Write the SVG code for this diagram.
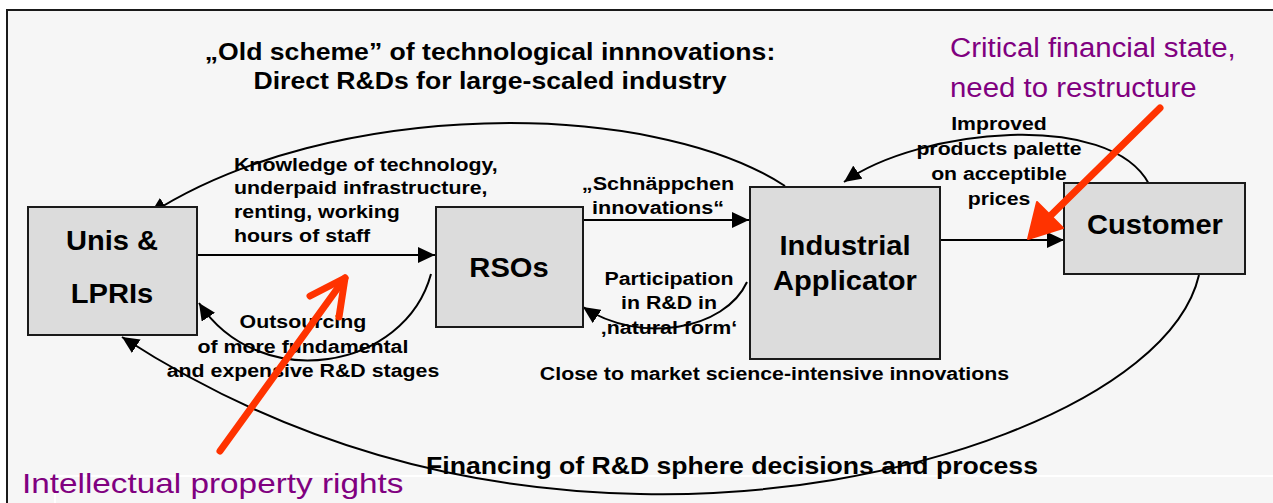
<svg xmlns="http://www.w3.org/2000/svg" width="1273" height="503" viewBox="0 0 1273 503">
  <defs>
    <style>
      .frame { fill: #f6f6f6; stroke: #1a1a1a; stroke-width: 2; }
      .box { fill: #dcdcdc; stroke: #1a1a1a; stroke-width: 2; }
      .node-text { font-family: "Liberation Sans", Arial, sans-serif; font-weight: bold; font-size: 27px; fill: #000; text-anchor: middle; }
      .label { font-family: "Liberation Sans", Arial, sans-serif; font-weight: bold; font-size: 19px; fill: #000; }
      .mid { text-anchor: middle; }
      .title { font-family: "Liberation Sans", Arial, sans-serif; font-weight: bold; font-size: 23px; fill: #000; text-anchor: middle; }
      .note { font-family: "Liberation Sans", Arial, sans-serif; font-size: 28px; fill: #800080; }
      .conn { fill: none; stroke: #000; stroke-width: 2; }
      .hl { fill: none; stroke: #ff3300; stroke-width: 7; stroke-linecap: round; stroke-linejoin: round; }
    </style>
    <marker id="arrow" markerUnits="userSpaceOnUse" markerWidth="18" markerHeight="16" refX="17" refY="8" orient="auto">
      <path d="M0,0 L17,8 L0,16 Z" fill="#000"/>
    </marker>
  </defs>

  <!-- slide panel -->
  <rect x="0" y="0" width="1273" height="503" fill="#ffffff"/>
  <rect class="frame" x="7" y="10" width="1280" height="510"/>
  <path d="M55,476 H1273 M55,476 V503" fill="none" stroke="#ffffff" stroke-width="2"/>

  <!-- title (wide bold lettering, stretched horizontally about its centre) -->
  <g transform="matrix(1.157,0,0,1,-76.9,0)">
    <text class="title" x="490" y="60">„Old scheme” of technological innnovations:</text>
    <text class="title" x="490" y="89">Direct R&amp;Ds for large-scaled industry</text>
  </g>

  <!-- connector labels -->
  <g id="labels">
    <g transform="matrix(1.123,0,0,1,-28.8,0)">
      <text class="label" x="234" y="171">Knowledge of technology,</text>
      <text class="label" x="234" y="194">underpaid infrastructure,</text>
      <text class="label" x="234" y="218">renting, working</text>
      <text class="label" x="234" y="242">hours of staff</text>
    </g>
    <g transform="matrix(1.137,0,0,1,-90.1,0)">
      <text class="label mid" x="658" y="190">„Schnäppchen</text>
      <text class="label mid" x="658" y="214">innovations“</text>
    </g>
    <g transform="matrix(1.123,0,0,1,-82.3,0)">
      <text class="label mid" x="669" y="285">Participation</text>
      <text class="label mid" x="669" y="309">in R&amp;D in</text>
      <text class="label mid" x="669" y="334">‚natural form‘</text>
    </g>
    <g transform="matrix(1.123,0,0,1,-37.3,0)">
      <text class="label mid" x="303" y="328">Outsourcing</text>
      <text class="label mid" x="303" y="353">of more fundamental</text>
      <text class="label mid" x="303" y="377">and expensive R&amp;D stages</text>
    </g>
    <g transform="matrix(1.123,0,0,1,-95.3,0)">
      <text class="label mid" x="774.5" y="380">Close to market science-intensive innovations</text>
    </g>
    <g transform="matrix(1.118,0,0,1,-117.9,0)">
      <text class="label mid" x="999" y="130">Improved</text>
      <text class="label mid" x="999" y="155">products palette</text>
      <text class="label mid" x="999" y="180">on acceptible</text>
      <text class="label mid" x="999" y="205">prices</text>
    </g>
    <g transform="matrix(1.157,0,0,1,-114.9,0)">
      <text class="title" x="732" y="474">Financing of R&amp;D sphere decisions and process</text>
    </g>
  </g>

  <!-- connectors -->
  <g id="connectors">
    <path class="conn" d="M197,255 H435" marker-end="url(#arrow)"/>
    <path class="conn" d="M581,220 H749" marker-end="url(#arrow)"/>
    <path class="conn" d="M930,240 H1064" marker-end="url(#arrow)"/>
    <path class="conn" d="M747,282 C725,330 640,345 583,307" marker-end="url(#arrow)"/>
    <path class="conn" d="M431,274 C405,370 260,395 199,303" marker-end="url(#arrow)"/>
    <path class="conn" d="M785,186 C650,98 330,98 150,214" marker-end="url(#arrow)"/>
    <path class="conn" d="M1149,184 C1110,110 920,128 844,182" marker-end="url(#arrow)"/>
    <path class="conn" d="M1199,275 C1170,400 900,500 640,494 C420,490 250,420 122,337" marker-end="url(#arrow)"/>
  </g>

  <!-- nodes -->
  <g id="unis">
    <rect class="box" x="28" y="207" width="169" height="128"/>
    <g transform="matrix(1.078,0,0,1,-8.7,0)">
      <text class="node-text" x="112" y="250">Unis &amp;</text>
      <text class="node-text" x="112" y="303">LPRIs</text>
    </g>
  </g>
  <g id="rsos">
    <rect class="box" x="436" y="207" width="147" height="120"/>
    <text class="node-text" x="509" y="277" transform="matrix(1.078,0,0,1,-39.7,0)">RSOs</text>
  </g>
  <g id="industrial">
    <rect class="box" x="750" y="187" width="190" height="172"/>
    <g transform="matrix(1.078,0,0,1,-65.9,0)">
      <text class="node-text" x="845" y="255">Industrial</text>
      <text class="node-text" x="845" y="290">Applicator</text>
    </g>
  </g>
  <g id="customer">
    <rect class="box" x="1064" y="183" width="181" height="91"/>
    <text class="node-text" x="1155" y="234" transform="matrix(1.078,0,0,1,-90.1,0)">Customer</text>
  </g>

  <!-- highlight arrows -->
  <g id="highlights">
    <path class="hl" d="M220,451 L345,278"/>
    <path class="hl" d="M310,296 L345,278 L339,317"/>
    <path class="hl" d="M1160,108 L1040,226"/>
    <path d="M1028,239 L1037,202 L1063,228 Z" fill="#ff3300" stroke="#ff3300" stroke-width="2" stroke-linejoin="round"/>
  </g>

  <!-- annotations -->
  <g transform="matrix(1.05,0,0,1,-47.5,0)">
    <text class="note" x="950" y="57">Critical financial state,</text>
    <text class="note" x="950" y="97">need to restructure</text>
  </g>
  <text class="note" x="22" y="493" transform="matrix(1.19,0,0,1,-4.2,0)">Intellectual property rights</text>
</svg>
